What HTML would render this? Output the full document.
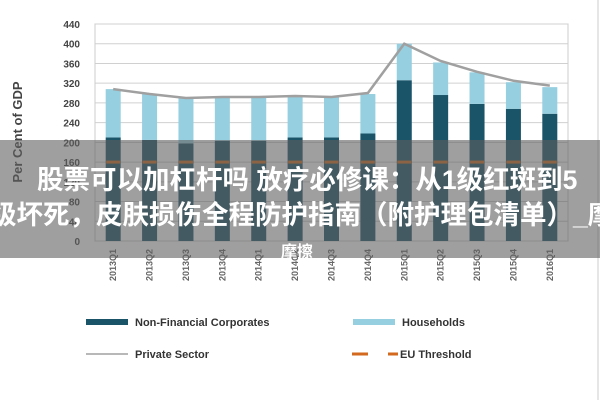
<!DOCTYPE html>
<html><head><meta charset="utf-8"><style>
body{margin:0;background:#fff;width:600px;height:400px;overflow:hidden;font-family:"Liberation Sans","Noto Sans CJK SC",sans-serif}
svg{position:absolute;left:0;top:0}
#ov{position:absolute;left:0;top:140px;width:600px;height:118px;background:rgba(95,95,95,0.6);overflow:hidden}
.l{position:absolute;color:#fff;font-weight:bold;font-size:26.5px;line-height:30px;white-space:nowrap;font-family:"Liberation Sans","Noto Sans CJK SC",sans-serif}
</style></head><body>
<svg id="c" width="600" height="400"></svg>
<div id="ov">
<div class="l" style="left:37px;top:25px">股票可以加杠杆吗 放疗必修课：从1级红斑到5</div>
<div class="l" style="left:-10px;top:60px">级坏死，皮肤损伤全程防护指南（附护理包清单）_摩擦</div>
<div class="l" style="left:281px;top:104px;font-size:16px;line-height:18px">摩擦</div>
</div>
<script>
const categories=["2013Q1","2013Q2","2013Q3","2013Q4","2014Q1","2014Q2","2014Q3","2014Q4","2015Q1","2015Q2","2015Q3","2015Q4","2016Q1"];
const nfc=[210,205,198,203,203,210,210,218,326,296,278,268,258];
const households=[98,93,92,87,87,83,82,80,74,66,64,54,54];
const privateSector=[308,298,290,292,292,294,292,300,400,365,343,325,315];
const euThreshold=[160,160,160,160,160,160,160,160,160,160,160,160,160];
const yTicks=[0,40,80,120,160,200,240,280,320,360,400,440];
const NS="http://www.w3.org/2000/svg",svg=document.getElementById('c');
const X0=95,X1=568,Y0=241,Y1=24;
const y=v=>Y0-(v/440)*(Y0-Y1);
const step=(X1-X0)/categories.length;
const x=i=>X0+step*(i+0.5);
function mk(t,a){const e=document.createElementNS(NS,t);for(const k in a)e.setAttribute(k,a[k]);svg.appendChild(e);return e;}
let e=mk('rect',{x:X0,y:Y1,width:X1-X0,height:Y0-Y1,fill:'none',stroke:'#ccc'});


yTicks.forEach(t=>{
 let g=mk('line',{x1:X0,x2:X1,y1:y(t),y2:y(t),stroke:'#d0d0d0'});
 
 
 let tx=mk('text',{x:80,y:y(t)+4,'text-anchor':'end','font-size':10,fill:'#444','font-weight':'bold'});tx.textContent=t;
 
 
});
let yt=mk('text',{transform:'translate(22,132) rotate(-90)','text-anchor':'middle','font-size':13,fill:'#444','font-weight':'bold'});yt.textContent='Per Cent of GDP';


const bw=15;
categories.forEach((c,i)=>{
 let b=mk('rect',{x:x(i)-bw/2,y:y(nfc[i]),width:bw,height:Y0-y(nfc[i]),fill:'#1a5468'});
 
 
 let h=mk('rect',{x:x(i)-bw/2,y:y(nfc[i]+households[i]),width:bw,height:y(nfc[i])-y(nfc[i]+households[i]),fill:'#96cfe0'});
 
 
 let d=mk('line',{x1:x(i)-7,x2:x(i)+7,y1:y(euThreshold[i]),y2:y(euThreshold[i]),stroke:'#d2691e','stroke-width':3});
 
 
 let t=mk('text',{transform:`translate(${x(i)+3},${Y0+8}) rotate(-90)`,'text-anchor':'end','font-size':9,fill:'#666','font-weight':'bold'});t.textContent=c;
 
 
});
let pl=mk('polyline',{points:privateSector.map((v,i)=>x(i)+','+y(v)).join(' '),fill:'none',stroke:'#a0a0a0','stroke-width':2.5});


let fr=mk('line',{x1:598,x2:598,y1:0,y2:400,stroke:'#ccc'});


const leg=[[86,322,'rect','#1a5468','Non-Financial Corporates',135],[353,322,'rect','#96cfe0','Households',402],[86,354,'line','#a0a0a0','Private Sector',135],[352,354,'dash','#d2691e','EU Threshold',400]];
leg.forEach(L=>{
 let s;
 if(L[2]=='rect') s=mk('rect',{x:L[0],y:L[1]-3,width:42,height:6,fill:L[3]});
 else if(L[2]=='line') s=mk('line',{x1:L[0],x2:L[0]+42,y1:L[1],y2:L[1],stroke:L[3],'stroke-width':1.5});
 else s=mk('path',{d:`M${L[0]} ${L[1]}h16M${L[0]+36} ${L[1]}h10`,stroke:L[3],'stroke-width':3});
 
 
 let t=mk('text',{x:L[5],y:L[1]+4,'font-size':11,fill:'#333','font-weight':'bold'});t.textContent=L[4];
 
 
});
</script>
</body></html>
